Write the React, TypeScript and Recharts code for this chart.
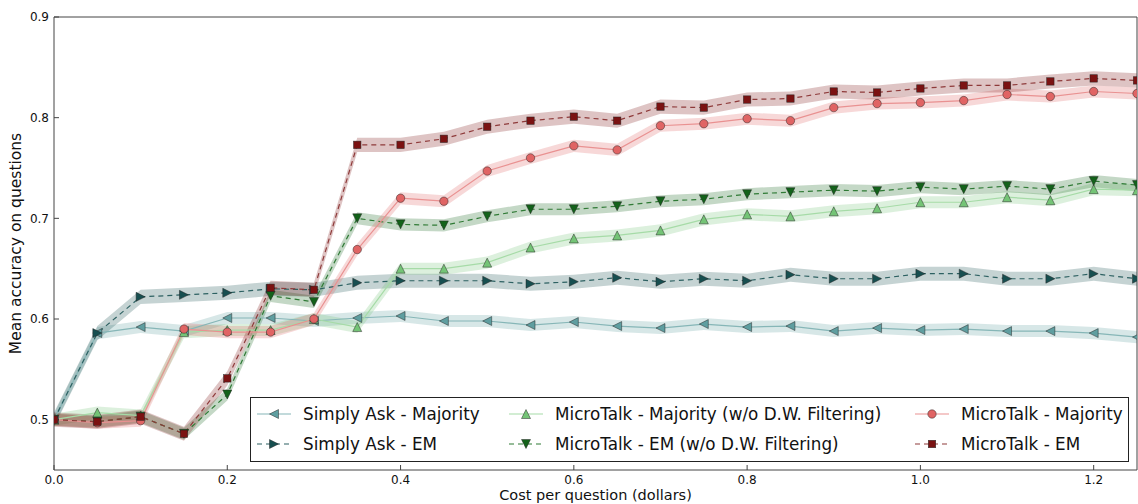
import { ComposedChart, Line, Area, XAxis, YAxis, Legend, Label } from 'recharts'

const COST = [
  0, 0.05, 0.1, 0.15, 0.2, 0.25, 0.3, 0.35, 0.4, 0.45, 0.5, 0.55, 0.6,
  0.65, 0.7, 0.75, 0.8, 0.85, 0.9, 0.95, 1.0, 1.05, 1.1, 1.15, 1.2, 1.25,
]

const SA_MAJORITY = [
  0.5, 0.586, 0.592, 0.588, 0.601, 0.601, 0.598, 0.601, 0.603, 0.598, 0.598, 0.594, 0.597,
  0.593, 0.591, 0.595, 0.592, 0.593, 0.588, 0.591, 0.589, 0.59, 0.588, 0.588, 0.586, 0.582,
]
const SA_EM = [
  0.5, 0.586, 0.622, 0.624, 0.626, 0.63, 0.629, 0.636, 0.638, 0.638, 0.638, 0.635, 0.637,
  0.641, 0.637, 0.64, 0.638, 0.644, 0.64, 0.64, 0.645, 0.645, 0.64, 0.64, 0.645, 0.64,
]
const MT_MAJORITY_NF = [
  0.5, 0.507, 0.504, 0.587, 0.589, 0.589, 0.6, 0.592, 0.65, 0.65, 0.656, 0.671, 0.68,
  0.683, 0.688, 0.699, 0.704, 0.702, 0.707, 0.71, 0.716, 0.716, 0.721, 0.718, 0.729, 0.728,
]
const MT_EM_NF = [
  0.5, 0.498, 0.503, 0.486, 0.525, 0.623, 0.617, 0.7, 0.694, 0.693, 0.702, 0.709, 0.709,
  0.712, 0.717, 0.719, 0.724, 0.726, 0.728, 0.727, 0.731, 0.729, 0.732, 0.729, 0.737, 0.733,
]
const MT_MAJORITY = [
  0.5, 0.497, 0.499, 0.59, 0.587, 0.587, 0.6, 0.669, 0.72, 0.717, 0.747, 0.76, 0.772,
  0.768, 0.792, 0.794, 0.799, 0.797, 0.81, 0.814, 0.815, 0.817, 0.823, 0.821, 0.826, 0.824,
]
const MT_EM = [
  0.5, 0.498, 0.503, 0.486, 0.541, 0.631, 0.629, 0.773, 0.773, 0.779, 0.791, 0.797, 0.801,
  0.797, 0.811, 0.81, 0.818, 0.819, 0.826, 0.825, 0.829, 0.832, 0.832, 0.836, 0.839, 0.837,
]

// half width of the shaded band around each series
const SA_MAJORITY_ERR = 0.006
const SA_EM_ERR = 0.007
const MT_MAJORITY_NF_ERR = 0.006
const MT_EM_NF_ERR = 0.006
const MT_MAJORITY_ERR = 0.006
const MT_EM_ERR = 0.007

const X_TICKS = [0, 0.2, 0.4, 0.6, 0.8, 1.0, 1.2]
const Y_TICKS = [0.5, 0.6, 0.7, 0.8, 0.9]

type Shape = 'left' | 'right' | 'up' | 'down' | 'circle' | 'square'

const SERIES = [
  { key: 'saMaj', name: 'Simply Ask - Majority', values: SA_MAJORITY, err: SA_MAJORITY_ERR, color: '#5f9ea0', line: '#86b6b7', dashed: false, shape: 'left' as Shape },
  { key: 'saEm', name: 'Simply Ask - EM', values: SA_EM, err: SA_EM_ERR, color: '#174f50', line: '#2d6162', dashed: true, shape: 'right' as Shape },
  { key: 'mtMajNf', name: 'MicroTalk - Majority (w/o D.W. Filtering)', values: MT_MAJORITY_NF, err: MT_MAJORITY_NF_ERR, color: '#74c476', line: '#a6dba7', dashed: false, shape: 'up' as Shape },
  { key: 'mtEmNf', name: 'MicroTalk - EM (w/o D.W. Filtering)', values: MT_EM_NF, err: MT_EM_NF_ERR, color: '#13621a', line: '#2f7a35', dashed: true, shape: 'down' as Shape },
  { key: 'mtMaj', name: 'MicroTalk - Majority', values: MT_MAJORITY, err: MT_MAJORITY_ERR, color: '#e06464', line: '#e99191', dashed: false, shape: 'circle' as Shape },
  { key: 'mtEm', name: 'MicroTalk - EM', values: MT_EM, err: MT_EM_ERR, color: '#7b1212', line: '#8e3a3a', dashed: true, shape: 'square' as Shape },
]

const data = COST.map((x, i) => {
  const row: Record<string, number | number[]> = { x }
  for (const s of SERIES) {
    row[s.key] = s.values[i]
    row[s.key + 'Band'] = [s.values[i] - s.err, s.values[i] + s.err]
  }
  return row
})

const FONT = '"DejaVu Sans", sans-serif'

function Marker({ cx, cy, shape, fill }: { cx?: number; cy?: number; shape: Shape; fill: string }) {
  if (cx == null || cy == null) return null
  const s = 4.5
  const common = { fill, stroke: '#222', strokeWidth: 0.6, strokeOpacity: 0.8 }
  switch (shape) {
    case 'circle':
      return <circle cx={cx} cy={cy} r={4.2} {...common} />
    case 'square':
      return <rect x={cx - 3.7} y={cy - 3.7} width={7.4} height={7.4} {...common} />
    case 'left':
      return <polygon points={`${cx - s},${cy} ${cx + s},${cy - s} ${cx + s},${cy + s}`} {...common} />
    case 'right':
      return <polygon points={`${cx + s},${cy} ${cx - s},${cy - s} ${cx - s},${cy + s}`} {...common} />
    case 'up':
      return <polygon points={`${cx},${cy - s} ${cx - s},${cy + s} ${cx + s},${cy + s}`} {...common} />
    default:
      return <polygon points={`${cx},${cy + s} ${cx - s},${cy - s} ${cx + s},${cy - s}`} {...common} />
  }
}

function LegendBox() {
  return (
    <div
      style={{
        width: 879,
        height: 65,
        boxSizing: 'border-box',
        border: '1px solid #222',
        background: '#fff',
        display: 'grid',
        gridTemplateColumns: '252px 406px 1fr',
        gridTemplateRows: '30px 30px',
        gridAutoFlow: 'column',
        paddingLeft: 6,
        paddingTop: 1,
        fontFamily: FONT,
        fontSize: 16.8,
        color: '#111',
      }}
    >
      {SERIES.map((s) => (
        <div key={s.key} style={{ display: 'flex', alignItems: 'center' }}>
          <svg width={34} height={16}>
            <line
              x1={0}
              x2={34}
              y1={8}
              y2={8}
              stroke={s.line}
              strokeWidth={1.2}
              strokeDasharray={s.dashed ? '5 4' : undefined}
            />
            <Marker cx={17} cy={8} shape={s.shape} fill={s.color} />
          </svg>
          <span style={{ marginLeft: 12, whiteSpace: 'nowrap' }}>{s.name}</span>
        </div>
      ))}
    </div>
  )
}

export default function App() {
  const tickStyle = { fontSize: 12, fontFamily: FONT, fill: '#111' }
  return (
    <div style={{ position: 'absolute', left: 0, top: 0, background: '#fff' }}>
      <ComposedChart width={1138} height={504} data={data} margin={{ top: 16, right: 0, bottom: 0, left: 0 }}>
        <XAxis
          dataKey="x"
          type="number"
          domain={[0, 1.25]}
          ticks={X_TICKS}
          tickFormatter={(v: number) => v.toFixed(1)}
          height={34}
          tickSize={-5}
          tickMargin={10}
          stroke="#444"
          tick={tickStyle}
          allowDataOverflow
        >
          <Label
            value="Cost per question (dollars)"
            position="bottom"
            offset={-13.8}
            style={{ fontSize: 14.5, fontFamily: FONT, fill: '#111' }}
          />
        </XAxis>
        <XAxis
          xAxisId="top"
          orientation="top"
          dataKey="x"
          type="number"
          domain={[0, 1.25]}
          ticks={X_TICKS}
          height={1}
          tickSize={-5}
          tick={false}
          stroke="#444"
        />
        <YAxis
          type="number"
          domain={[0.45, 0.9]}
          ticks={Y_TICKS}
          tickFormatter={(v: number) => v.toFixed(1)}
          width={54}
          tickSize={-5}
          tickMargin={10}
          stroke="#444"
          tick={tickStyle}
          allowDataOverflow
        >
          <Label
            value="Mean accuracy on questions"
            angle={-90}
            position="insideLeft"
            offset={15}
            style={{ fontSize: 15.5, fontFamily: FONT, fill: '#111', textAnchor: 'middle' }}
          />
        </YAxis>
        <YAxis
          yAxisId="right"
          orientation="right"
          type="number"
          domain={[0.45, 0.9]}
          ticks={Y_TICKS}
          width={1}
          tickSize={-5}
          tick={false}
          stroke="#444"
        />
        {SERIES.map((s) => (
          <Area
            key={s.key + 'Band'}
            dataKey={s.key + 'Band'}
            type="linear"
            stroke="none"
            fill={s.color}
            fillOpacity={0.25}
            isAnimationActive={false}
            legendType="none"
            activeDot={false}
          />
        ))}
        {SERIES.map((s) => (
          <Line
            key={s.key}
            dataKey={s.key}
            name={s.name}
            type="linear"
            stroke={s.line}
            strokeWidth={1.2}
            strokeDasharray={s.dashed ? '5 4' : undefined}
            isAnimationActive={false}
            activeDot={false}
            dot={(p: any) => <Marker key={s.key + p.index} cx={p.cx} cy={p.cy} shape={s.shape} fill={s.color} />}
          />
        ))}
        <Legend
          layout="horizontal"
          verticalAlign="middle"
          align="center"
          wrapperStyle={{ left: 250, top: 397, width: 879, height: 65 }}
          content={() => <LegendBox />}
        />
      </ComposedChart>
    </div>
  )
}
